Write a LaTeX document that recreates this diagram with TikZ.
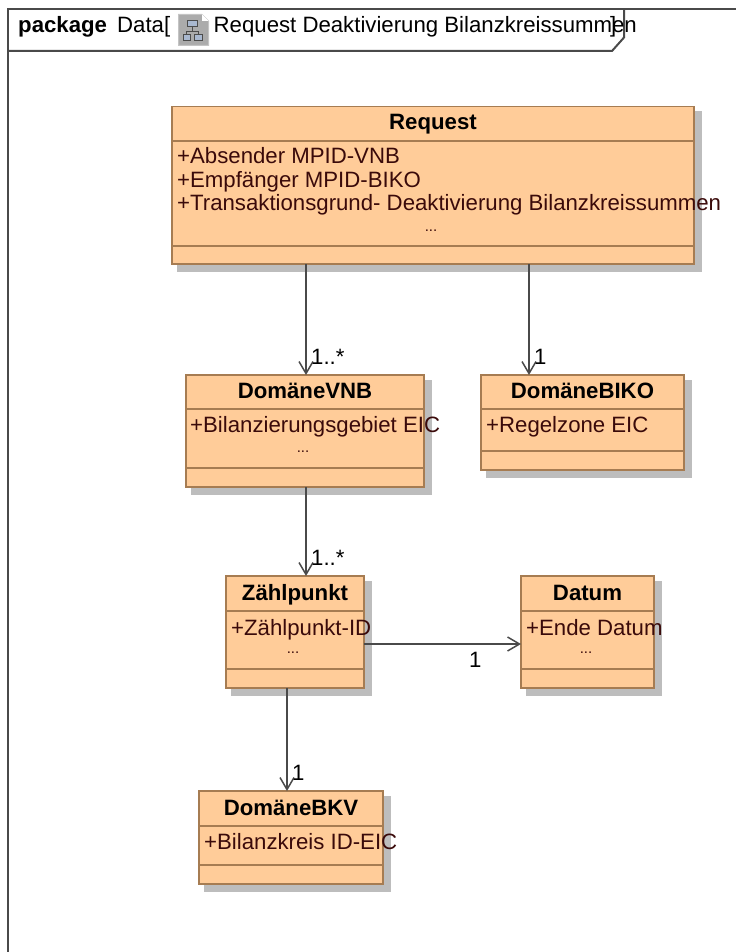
\documentclass[tikz,border=0pt]{standalone}
\usepackage{fontspec}
\setmainfont{Liberation Sans}
\usetikzlibrary{arrows.meta}
\definecolor{boxfill}{HTML}{FFCC99}
\definecolor{boxline}{HTML}{A67C52}
\definecolor{shadowc}{HTML}{BDBDBD}
\definecolor{attrc}{HTML}{3A0A0A}
\definecolor{framec}{HTML}{4A4A4A}
\definecolor{iconbody}{HTML}{ABABAB}
\definecolor{iconedge}{HTML}{C4C4C4}
\definecolor{iconbox}{HTML}{A9B8CF}
\newcommand{\classbox}[8]{%name,x0,y0,x1,y1,c1,c2,title
  \fill[shadowc] (#2+5,#3+5) rectangle (#4+8,#5+8);
  \node[classnode,minimum width=#4-#2,minimum height=#5-#3] (#1) at ({(#2+#4)/2},{(#3+#5)/2}) {};
  \draw[boxsep] (#2,#6) -- (#4,#6);
  \draw[boxsep] (#2,#7) -- (#4,#7);
  \node[titletext] (#1t) at ({(#2+#4)/2},#6-11) {#8};
}
\tikzset{
  x=1pt,y=-1pt,
  classnode/.style={draw=boxline,fill=boxfill,line width=1.5pt,inner sep=0pt,outer sep=0pt},
  boxsep/.style={draw=boxline,line width=1.3pt},
  titletext/.style={font=\fontsize{22.2}{25}\selectfont\bfseries,text=black,inner sep=0pt,anchor=base},
  attr/.style={font=\fontsize{22.2}{25}\selectfont,text=attrc,anchor=base west,inner sep=0pt},
  dots/.style={font=\fontsize{15}{17}\selectfont,text=attrc,anchor=base,inner sep=0pt},
  mult/.style={font=\fontsize{22.2}{25}\selectfont,text=black,anchor=base west,inner sep=0pt},
  assoc/.style={draw=framec,line width=1.6pt,-{Straight Barb[length=12pt,width=14pt,line width=1.5pt]}},
  framel/.style={draw=framec,line width=2pt},
  tabtext/.style={font=\fontsize{22.2}{25}\selectfont,text=black,anchor=base west,inner sep=0pt},
}
\begin{document}
\begin{tikzpicture}
\useasboundingbox (0,0) rectangle (736,952);
% frame
\draw[framel] (7.5,952) -- (7.5,9) -- (736,9);
\draw[framel] (7.5,51) -- (612,51) -- (624,37.5) -- (624,9);
\node[tabtext,font=\fontsize{22.2}{25}\selectfont\bfseries] (kw) at (18,32.5) {package};
\node[tabtext] (nm) at (117,32.5) {Data[};
\node[tabtext] (tt) at (213.5,32.5) {Request Deaktivierung Bilanzkreissummen};
\node[tabtext] (br) at (610,32.5) {]};
% icon
\draw[fill=iconbody,draw=iconedge,line width=1pt] (178.5,14.5) -- (202,14.5) -- (208.5,21) -- (208.5,45.5) -- (178.5,45.5) -- cycle;
\fill[white] (202,14.5) -- (208.5,21) -- (202,21) -- cycle;
\draw[black!70,line width=.9pt] (192.5,27) -- (192.5,31) (186.5,35) -- (186.5,31) -- (198,31) -- (198,35);
\draw[black!70,fill=iconbox,line width=1pt] (187,21) rectangle (197,27) (183,35) rectangle (190,41) (194,35) rectangle (202,41);
% classes
\classbox{req}{172}{106.5}{694}{264}{141}{246}{Request}
\classbox{vnb}{186}{375}{424}{487}{409}{468}{DomäneVNB}
\classbox{biko}{481}{375}{684}{470}{409}{451}{DomäneBIKO}
\classbox{zp}{226}{576}{364}{688}{611}{669}{Zählpunkt}
\classbox{dat}{521}{576}{654}{688}{611}{669}{Datum}
\classbox{bkv}{199}{791}{383}{884}{826}{865}{DomäneBKV}
% attributes
\node[attr] (a1) at (177,164) {+Absender MPID-VNB};
\node[attr] (a2) at (177,187) {+Empfänger MPID-BIKO};
\node[attr] (a3) at (177,210) {+Transaktionsgrund- Deaktivierung Bilanzkreissummen};
\node[dots] (a4) at (431,231) {...};
\node[attr] (v1) at (190,432) {+Bilanzierungsgebiet EIC};
\node[dots] (v2) at (303,452.5) {...};
\node[attr] (b1) at (486,432) {+Regelzone EIC};
\node[attr] (z1) at (231,635) {+Zählpunkt-ID};
\node[dots] (z2) at (293,653) {...};
\node[attr] (d1) at (526,635) {+Ende Datum};
\node[dots] (d2) at (586,653) {...};
\node[attr] (k1) at (204,849) {+Bilanzkreis ID-EIC};
% connector anchors
\coordinate (cx1) at (306,0);
\coordinate (cx2) at (529,0);
\coordinate (cx3) at (287,0);
\coordinate (cy1) at (0,644);
\draw[assoc] (req.south -| cx1) -- (vnb.north -| cx1);
\draw[assoc] (req.south -| cx2) -- (biko.north -| cx2);
\draw[assoc] (vnb.south -| cx1) -- (zp.north -| cx1);
\draw[assoc] (zp.east |- cy1) -- (dat.west |- cy1);
\draw[assoc] (zp.south -| cx3) -- (bkv.north -| cx3);
\node[mult] (m1) at (311,364) {1..*};
\node[mult] (m2) at (534,364) {1};
\node[mult] (m3) at (311,565) {1..*};
\node[mult] (m4) at (469,667) {1};
\node[mult] (m5) at (292,780) {1};
\end{tikzpicture}
\end{document}
